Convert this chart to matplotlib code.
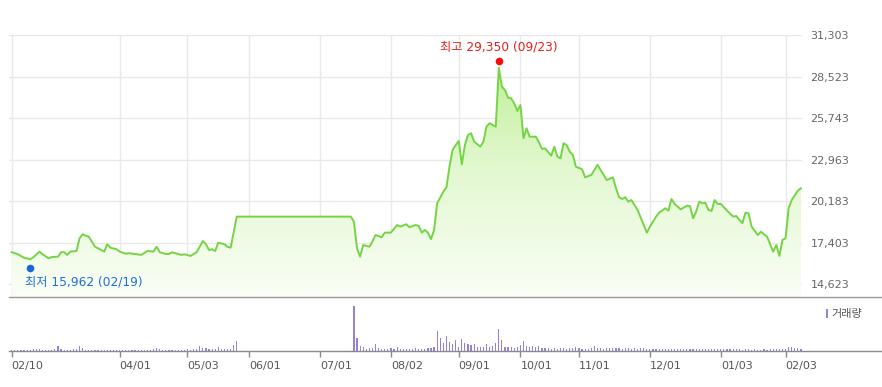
import numpy as np
import matplotlib
matplotlib.use("Agg")
import matplotlib.pyplot as plt
from matplotlib.patches import Polygon, Rectangle
from matplotlib.colors import LinearSegmentedColormap
from matplotlib.transforms import offset_copy

# ---------------- data (trading-day index, closing price) ----------------
close_day = [0, 2, 4, 6, 7, 9, 10, 12, 13, 15, 16, 17, 18, 19, 21, 22, 23, 24, 25, 27,
             29, 30, 31, 32, 34, 35, 37, 38, 40, 42, 44, 46, 47, 48, 50, 51, 52, 54, 55, 56,
             58, 60, 62, 63, 64, 65, 66, 67, 69, 70, 71, 73, 110, 111, 112, 113, 114, 116, 117, 118,
             120, 121, 123, 125, 126, 128, 129, 131, 132, 133, 134, 135, 136, 137, 138, 140, 141, 142, 143, 144,
             145, 146, 147, 148, 149, 150, 152, 153, 154, 155, 156, 157, 158, 159, 160, 161, 162, 163, 164, 165,
             166, 167, 168, 170, 171, 172, 173, 175, 176, 177, 178, 179, 180, 181, 182, 183, 185, 186, 188, 190,
             192, 193, 195, 196, 197, 198, 199, 200, 201, 203, 205, 206, 207, 209, 210, 212, 213, 214, 215, 217,
             219, 220, 221, 222, 223, 224, 225, 226, 227, 228, 229, 230, 232, 234, 235, 237, 238, 239, 240, 242,
             243, 245, 247, 248, 249, 250, 251, 252, 253, 255, 256]
close_price = [16770, 16630, 16400, 16300, 16430, 16810, 16630, 16360, 16450, 16470, 16770, 16770, 16590, 16810, 16850, 17700, 17970, 17880, 17810, 17140,
               16920, 16810, 17300, 17070, 16970, 16810, 16670, 16700, 16650, 16590, 16850, 16810, 17140, 16770, 16650, 16650, 16770, 16650, 16590, 16630,
               16520, 16770, 17520, 17300, 16920, 16970, 16850, 17410, 17300, 17140, 17070, 19150, 19150, 18810, 17030, 16470, 17250, 17140, 17480, 17920,
               17770, 18080, 18080, 18590, 18480, 18640, 18440, 18590, 18530, 18080, 18260, 18080, 17640, 18260, 20040, 20820, 21110, 22490, 23610, 23940,
               24210, 22650, 23940, 24610, 24730, 24170, 23830, 24170, 25170, 25400, 25280, 25170, 29110, 27840, 27620, 27110, 27070, 26730, 26220, 26620,
               24390, 25060, 24500, 24500, 24130, 23680, 23720, 23230, 23830, 23160, 23050, 24060, 23940, 23500, 23280, 22490, 22320, 21780, 21940, 22610,
               21940, 21600, 21780, 21050, 20450, 20330, 20450, 20150, 20260, 19600, 18590, 18080, 18480, 19150, 19420, 19710, 19550, 20330, 20000, 19640,
               19880, 19860, 19040, 19480, 20150, 20040, 20080, 19600, 19530, 20260, 20000, 20000, 19550, 19150, 19190, 18710, 19420, 19370, 18480, 17920,
               18140, 17810, 16810, 17250, 16520, 17590, 17700, 19710, 20260, 20890, 21050]

# daily volume (relative units), one value per trading day 0..256
volume = [1.5, 1.5, 1.5, 1.5, 1.5, 1.5, 1.5, 2, 2.3, 2.3,
          1.5, 1.5, 1.5, 1.5, 2, 5.3, 2.3, 1.5, 1.5, 1.5,
          2, 2.3, 5.3, 3, 1.5, 1.5, 1.5, 1.5, 1.5, 1.5,
          1.5, 1.5, 1.5, 1.5, 1.5, 1.5, 1.5, 1.5, 1.5, 1.5,
          1.5, 1.5, 1.5, 1.5, 1.5, 1.5, 2, 2.7, 2, 1.5,
          1.5, 1.5, 1.5, 1.5, 1.5, 1.5, 1.5, 2.5, 1.5, 2,
          2.5, 5, 3, 3, 2.5, 2.5, 2, 4, 2, 2,
          2, 2.5, 5.7, 10.3, 0, 0, 0, 0, 0, 0,
          0, 0, 0, 0, 0, 0, 0, 0, 0, 0,
          0, 0, 0, 0, 0, 0, 0, 0, 0, 0,
          0, 0, 0, 0, 0, 0, 0, 0, 0, 0,
          0, 45.3, 12.7, 5.3, 4, 2, 2.7, 3, 6.7, 3,
          2.5, 2.5, 2, 3, 2.5, 4, 2.5, 2, 2.5, 2,
          2.5, 3, 2.5, 2, 2.5, 3, 3, 4, 20.3, 12.7,
          8.3, 15.3, 9.3, 7, 11, 4, 11.7, 8.3, 7, 6,
          7, 3.7, 4.3, 3.7, 7, 3.7, 5, 7.7, 21.7, 11,
          4.3, 4.3, 3.7, 2.7, 4.3, 6, 10.3, 5, 3.7, 5,
          4.3, 5, 3.3, 2.7, 2.7, 2.3, 2.7, 2.3, 3, 2.7,
          2.3, 2.7, 3, 3.7, 2.7, 2.3, 2.3, 2.3, 3, 5,
          3, 2.7, 2.3, 2.7, 3, 2.7, 3.5, 2.7, 2.3, 2.7,
          3, 2.3, 2.7, 2.3, 2.7, 3.3, 2.3, 2.3, 2.3, 2,
          2.3, 2, 2.3, 2, 2.3, 2, 2, 2.3, 2, 2,
          2.3, 2, 2.3, 2, 2, 2.3, 2, 2, 2, 2,
          2.3, 2, 2, 2, 2.3, 2, 2, 1.5, 2, 2.3,
          1.5, 2, 1.5, 1.5, 2, 1.5, 2, 2, 2, 2.3,
          2.5, 2.3, 4.3, 4.3, 3.3, 2.7, 2]

tick_day = [0, 35, 57, 77, 100, 123, 145, 165, 184, 207, 230, 251]
tick_labels = ["02/10", "04/01", "05/03", "06/01", "07/01", "08/02",
               "09/01", "10/01", "11/01", "12/01", "01/03", "02/03"]
price_ticks = [14623, 17403, 20183, 22963, 25743, 28523, 31303]

high_day, high_price, high_label = 158, 29350, "최고 29,350 (09/23)"
low_day, low_price, low_label = 6, 15962, "최저 15,962 (02/19)"
volume_label = "거래량"

assert len(close_day) == len(close_price)

# ---------------- figure ----------------
W, H = 882, 387
fig = plt.figure(figsize=(W / 100, H / 100), dpi=100)
fig.patch.set_facecolor("white")
KR = ["Noto Sans CJK KR", "DejaVu Sans"]
MIX = ["DejaVu Sans", "Noto Sans CJK KR"]

x0 = -0.88
ppd = 3.083  # pixels per trading day
ax = fig.add_axes([9 / W, 1 - 297 / H, (802 - 9) / W, (297 - 35) / H])
ax.set_xlim(x0, x0 + (802 - 9) / ppd)
ylo, yhi = 13773, 31303
ax.set_ylim(ylo, yhi)
for s in ax.spines.values():
    s.set_visible(False)

ax.set_yticks(price_ticks)
ax.set_yticklabels([f"{v:,}" for v in price_ticks])
ax.yaxis.tick_right()
ax.tick_params(axis="y", length=0, pad=6, labelsize=8, labelcolor="#666666")
ax.set_xticks(tick_day)
ax.tick_params(axis="x", length=0, labelbottom=False)
ax.grid(True, color="#e9e9e9", lw=1)
ax.set_axisbelow(True)

# gradient fill under the line
cmap = LinearSegmentedColormap.from_list("g", ["#fafef6", "#e2f8cf", "#b6ec88"])
grad = np.linspace(1, 0, 256).reshape(-1, 1)
xl = ax.get_xlim()
im = ax.imshow(grad, extent=[xl[0], xl[1], ylo, yhi], aspect="auto",
               cmap=cmap, vmin=0, vmax=1, zorder=1, interpolation="bilinear")
verts = list(zip(close_day, close_price)) + [(close_day[-1], ylo), (close_day[0], ylo)]
poly = Polygon(verts, closed=True, facecolor="none", edgecolor="none")
ax.add_patch(poly)
im.set_clip_path(poly)
ax.set_xlim(xl)
ax.set_ylim(ylo, yhi)

ax.plot(close_day, close_price, color="#74d444", lw=1.4, zorder=3,
        solid_joinstyle="round")

# high / low markers
tr_hi = offset_copy(ax.transData, fig=fig, x=0, y=3.5, units="dots")
tr_lo = offset_copy(ax.transData, fig=fig, x=0, y=-4, units="dots")
ax.plot([high_day], [high_price], "o", color="#ff0a0a", ms=5.5, mec="none",
        transform=tr_hi, zorder=5, clip_on=False)
ax.plot([low_day], [low_price], "o", color="#1a66d6", ms=5.5, mec="none",
        transform=tr_lo, zorder=5, clip_on=False)
ax.annotate(high_label, (high_day, high_price), xytext=(0, 17),
            textcoords="offset pixels", ha="center", va="center",
            fontsize=8.8, color="#e8201a", family=MIX, zorder=6)
ax.annotate(low_label, (low_day, low_price), xytext=(-5, -17.5),
            textcoords="offset pixels", ha="left", va="center",
            fontsize=8.8, color="#1f6fd0", family=MIX, zorder=6)

# ---------------- volume panel ----------------
av = fig.add_axes([9 / W, 1 - 351 / H, (881 - 9) / W, (351 - 297) / H])
av.set_xlim(x0, x0 + (881 - 9) / ppd)
av.set_ylim(0, 54)
vdays = np.arange(len(volume))
av.bar(vdays, volume, width=0.38, color="#9582d4", lw=0, align="center")
for k in ["left", "right"]:
    av.spines[k].set_visible(False)
av.spines["top"].set_color("#9a9a9a")
av.spines["top"].set_linewidth(1)
av.spines["bottom"].set_color("#8a8a8a")
av.spines["bottom"].set_linewidth(1)
av.set_yticks([])
av.set_xticks(tick_day)
av.set_xticklabels(tick_labels)
av.tick_params(axis="x", length=4, width=1, color="#8a8a8a", labelsize=8,
               labelcolor="#555555", pad=3)
for lbl in av.get_xticklabels():
    lbl.set_horizontalalignment("left")

# legend "거래량"
fig.patches.append(Rectangle((825.5 / W, 1 - 318 / H), 2.5 / W, 9 / H,
                             transform=fig.transFigure, color="#9582d4", lw=0))
fig.text(831 / W, 1 - 313.5 / H, volume_label, fontsize=8, color="#555555",
         family=KR, ha="left", va="center")

fig.savefig("out.png", dpi=100, facecolor="white")
